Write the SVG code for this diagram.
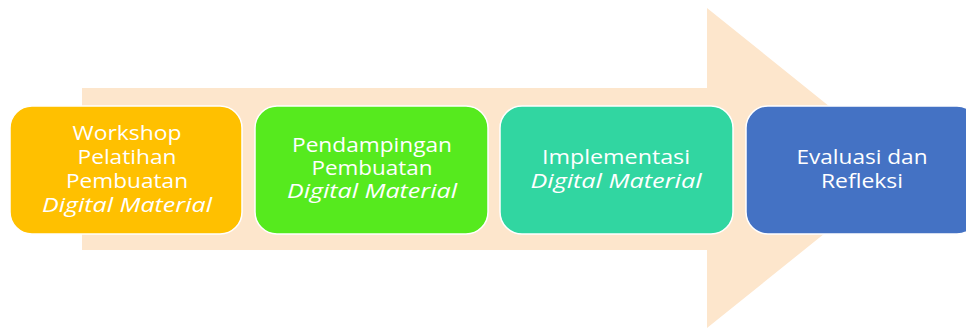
<svg xmlns="http://www.w3.org/2000/svg" width="966" height="328" viewBox="0 0 966 328">
<style>
.box{stroke:#ffffff;stroke-width:1.5}
.t{font-family:"Open Sans","Noto Sans",sans-serif;font-size:19.5px;fill:#ffffff;text-anchor:middle}
.i{font-style:italic}
</style>
<rect width="966" height="328" fill="#ffffff"/>
<g id="arrow">
<polygon points="82,88 707,88 707,8 906,168 707,328 707,250 82,250" fill="#FDE6CC"/>
</g>
<g id="connectors"></g>
<g id="n1">
<rect class="box" x="10" y="106" width="232" height="128" rx="22" fill="#FFC000"/>
<text class="t" x="127" y="140" textLength="109" lengthAdjust="spacingAndGlyphs">Workshop</text>
<text class="t" x="127" y="164" textLength="99" lengthAdjust="spacingAndGlyphs">Pelatihan</text>
<text class="t" x="127" y="188" textLength="122" lengthAdjust="spacingAndGlyphs">Pembuatan</text>
<text class="t i" x="127" y="212" textLength="170" lengthAdjust="spacingAndGlyphs">Digital Material</text>
</g>
<g id="n2">
<rect class="box" x="255" y="106" width="233" height="128" rx="22" fill="#56EA1E"/>
<text class="t" x="372" y="152" textLength="160" lengthAdjust="spacingAndGlyphs">Pendampingan</text>
<text class="t" x="372" y="175" textLength="121" lengthAdjust="spacingAndGlyphs">Pembuatan</text>
<text class="t i" x="372" y="198" textLength="170" lengthAdjust="spacingAndGlyphs">Digital Material</text>
</g>
<g id="n3">
<rect class="box" x="500" y="106" width="233" height="128" rx="22" fill="#31D6A1"/>
<text class="t" x="616" y="164" textLength="148" lengthAdjust="spacingAndGlyphs">Implementasi</text>
<text class="t i" x="616" y="188" textLength="171" lengthAdjust="spacingAndGlyphs">Digital Material</text>
</g>
<g id="n4">
<rect class="box" x="746" y="106" width="233" height="128" rx="22" fill="#4472C4"/>
<text class="t" x="862" y="164" textLength="131" lengthAdjust="spacingAndGlyphs">Evaluasi dan</text>
<text class="t" x="862" y="188" textLength="82" lengthAdjust="spacingAndGlyphs">Refleksi</text>
</g>
</svg>
